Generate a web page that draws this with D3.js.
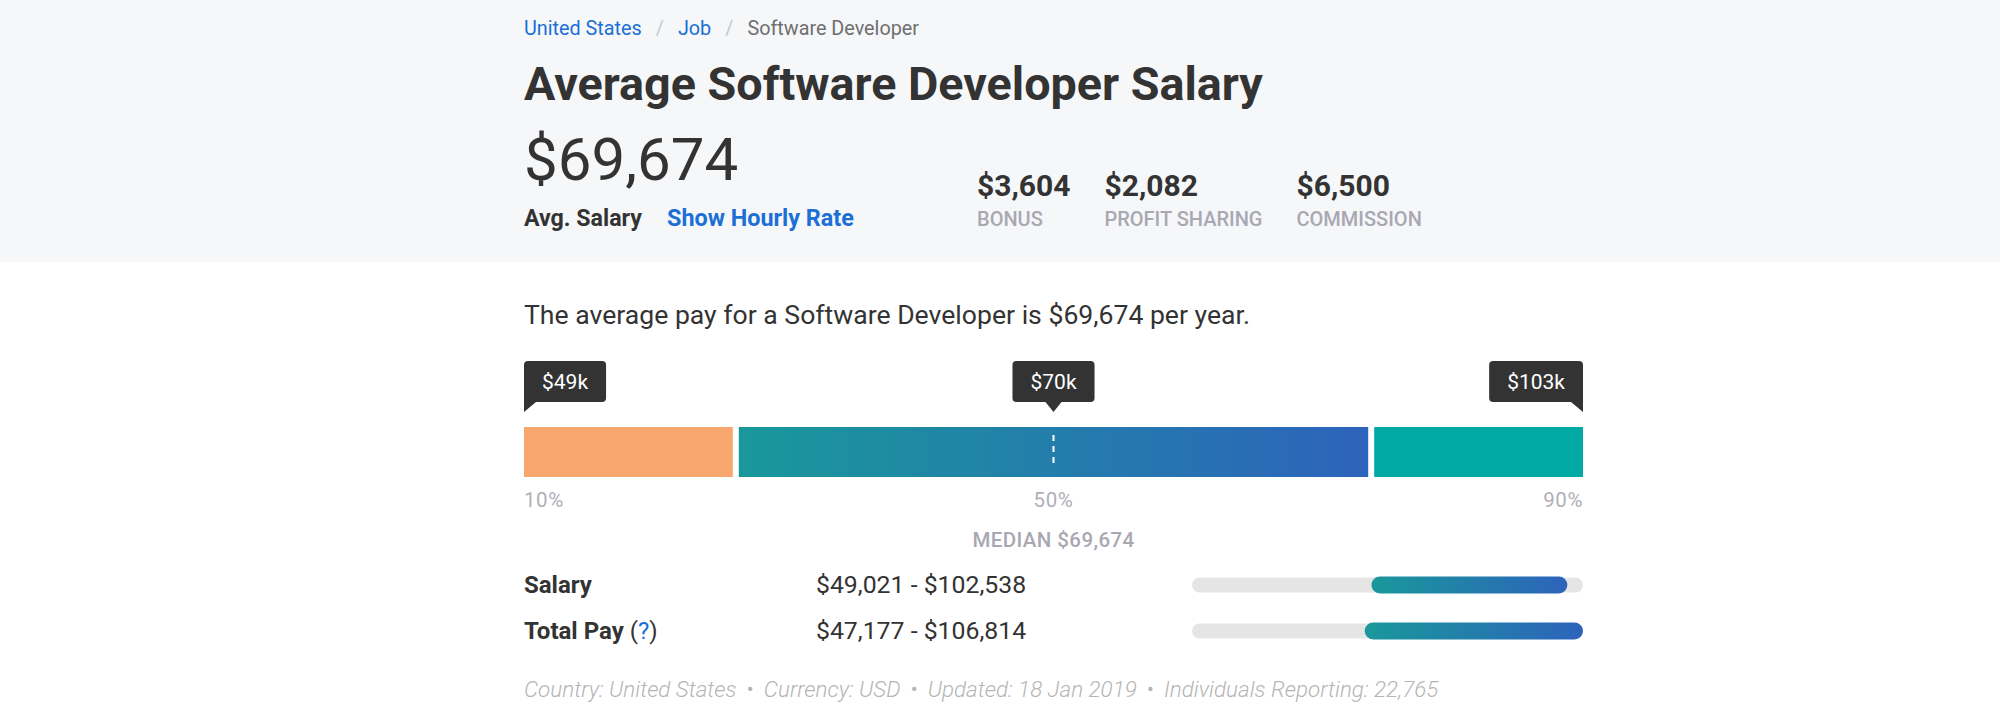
<!DOCTYPE html>
<html><head><meta charset="utf-8">
<script src="https://cdn.jsdelivr.net/npm/d3@7"></script>
<style>
body{margin:0;background:#fff;}
svg{display:block;font-family:Roboto,"Noto Sans",sans-serif;}
</style>
</head><body>
<svg id="chart" width="2000" height="709"></svg>
<script>
// ---- data ----
const breadcrumbItems = ["United States", "Job", "Software Developer"];
const breadcrumbIsLink = [true, true, false];
const pageTitle = "Average Software Developer Salary";
const avgSalary = 69674;
const extraLabels = ["BONUS", "PROFIT SHARING", "COMMISSION"];
const extraValues = [3604, 2082, 6500];
const percentileTicks = [10, 50, 90];
const percentileTickLabels = ["10%", "50%", "90%"];
const percentileValuesK = [49, 70, 103];
const segmentBounds = [10, 26, 74, 90];
const medianPay = 69674;
const rangeLabels = ["Salary", "Total Pay"];
const rangeLow = [49021, 47177];
const rangeHigh = [102538, 106814];
const footerItems = ["Country: United States", "Currency: USD", "Updated: 18 Jan 2019", "Individuals Reporting: 22,765"];

// ---- drawing ----
const svg = d3.select("#chart");
const W = 2000, H = 709;
const left = 524, right = 1583;
const fmt = d3.format("$,");

const defs = svg.append("defs");
const grad = defs.append("linearGradient").attr("id", "g1")
  .attr("x1", "0%").attr("x2", "100%").attr("y1", "0%").attr("y2", "0%");
grad.append("stop").attr("offset", "0%").attr("stop-color", "#19989b");
grad.append("stop").attr("offset", "100%").attr("stop-color", "#2d63bb");

// header background
svg.append("rect").attr("x", 0).attr("y", 0).attr("width", W).attr("height", 262).attr("fill", "#f6f7f9");

// breadcrumb
let bx = left;
const bcSize = 19.8;
breadcrumbItems.forEach((t, i) => {
  const s = svg.append("text").attr("x", bx).attr("y", 35).attr("font-size", bcSize)
    .attr("fill", breadcrumbIsLink[i] ? "#1b6fd6" : "#6f6f6f").text(t);
  bx += s.node().getComputedTextLength();
  if (i < breadcrumbItems.length - 1) {
    bx += 14;
    const sep = svg.append("text").attr("x", bx).attr("y", 35).attr("font-size", bcSize)
      .attr("fill", "#c8c8c8").text("/");
    bx += sep.node().getComputedTextLength() + 14;
  }
});

// title
svg.append("text").attr("x", left).attr("y", 100).attr("font-size", 46.7)
  .attr("font-weight", 700).attr("fill", "#333").text(pageTitle);

// big average
svg.append("text").attr("x", left).attr("y", 180).attr("font-size", 60)
  .attr("font-weight", 400).attr("fill", "#333").text(fmt(avgSalary));

svg.append("text").attr("x", left).attr("y", 226).attr("font-size", 23.2)
  .attr("font-weight", 700).attr("fill", "#333").text("Avg. Salary");
svg.append("text").attr("x", 667).attr("y", 226).attr("font-size", 23.4)
  .attr("font-weight", 700).attr("fill", "#1b6fd6").text("Show Hourly Rate");

// extras
let ex = 977;
extraValues.forEach((v, i) => {
  const n = svg.append("text").attr("x", ex).attr("y", 196).attr("font-size", 30)
    .attr("font-weight", 700).attr("fill", "#333").text(fmt(v));
  const l = svg.append("text").attr("x", ex).attr("y", 226).attr("font-size", 20)
    .attr("font-weight", 500).attr("fill", "#a9a8b2").text(extraLabels[i]);
  ex += Math.max(n.node().getComputedTextLength(), l.node().getComputedTextLength()) + 34;
});

// sentence
svg.append("text").attr("x", left).attr("y", 324).attr("font-size", 26.6)
  .attr("fill", "#333").text(`The average pay for a Software Developer is ${fmt(avgSalary)} per year.`);

// percentile bar
const x = d3.scaleLinear().domain([10, 90]).range([left, right]);
const barY = 427, barH = 50, gap = 3;
const segFills = ["#f8a86e", "url(#g1)", "#01aaa5"];
const segs = d3.pairs(segmentBounds).map((p, i) => ({ a: p[0], b: p[1], i }));
svg.selectAll(".seg").data(segs).join("rect").attr("class", "seg")
  .attr("x", d => x(d.a) + (d.i > 0 ? gap : 0))
  .attr("width", d => x(d.b) - x(d.a) - (d.i > 0 ? gap : 0) - (d.i < segs.length - 1 ? gap : 0))
  .attr("y", barY).attr("height", barH)
  .attr("fill", d => segFills[d.i]);

// median dashed line
svg.append("line").attr("x1", x(50)).attr("x2", x(50)).attr("y1", barY + 8).attr("y2", barY + barH - 10)
  .attr("stroke", "#fff").attr("stroke-width", 2).attr("stroke-dasharray", "6,5");

// tooltips
const tipY = 361, tipH = 41, tail = 10, r = 4;
percentileTicks.forEach((p, i) => {
  const px = x(p);
  const g = svg.append("g");
  const t = g.append("text").attr("font-size", 21).attr("fill", "#fff").attr("y", tipY + 28)
    .text("$" + percentileValuesK[i] + "k");
  const tw = t.node().getComputedTextLength();
  const w = tw + 36;
  let bx0;
  if (i === 0) bx0 = px; else if (i === percentileTicks.length - 1) bx0 = px - w; else bx0 = px - w / 2;
  const x0 = bx0, x1 = bx0 + w, y0 = tipY, y1 = tipY + tipH;
  let path = d3.path();
  if (i === 0) {
    path.moveTo(x0, y0 + r); path.arcTo(x0, y0, x0 + r, y0, r);
    path.lineTo(x1 - r, y0); path.arcTo(x1, y0, x1, y0 + r, r);
    path.lineTo(x1, y1 - r); path.arcTo(x1, y1, x1 - r, y1, r);
    path.lineTo(x0 + 12, y1); path.lineTo(x0, y1 + tail); path.closePath();
  } else if (i === percentileTicks.length - 1) {
    path.moveTo(x0, y0 + r); path.arcTo(x0, y0, x0 + r, y0, r);
    path.lineTo(x1 - r, y0); path.arcTo(x1, y0, x1, y0 + r, r);
    path.lineTo(x1, y1 + tail); path.lineTo(x1 - 12, y1);
    path.lineTo(x0 + r, y1); path.arcTo(x0, y1, x0, y1 - r, r); path.closePath();
  } else {
    path.moveTo(x0, y0 + r); path.arcTo(x0, y0, x0 + r, y0, r);
    path.lineTo(x1 - r, y0); path.arcTo(x1, y0, x1, y0 + r, r);
    path.lineTo(x1, y1 - r); path.arcTo(x1, y1, x1 - r, y1, r);
    path.lineTo(px + 8, y1); path.lineTo(px, y1 + tail); path.lineTo(px - 8, y1);
    path.lineTo(x0 + r, y1); path.arcTo(x0, y1, x0, y1 - r, r); path.closePath();
  }
  g.insert("path", "text").attr("d", path.toString()).attr("fill", "#333");
  t.attr("x", bx0 + w / 2).attr("text-anchor", "middle");
});

// percentile tick labels
svg.selectAll(".pl").data(percentileTicks).join("text").attr("class", "pl")
  .attr("x", d => x(d)).attr("y", 507).attr("font-size", 20.5).attr("fill", "#b0afb8")
  .attr("letter-spacing", 0.6)
  .attr("text-anchor", (d, i) => i === 0 ? "start" : (i === percentileTicks.length - 1 ? "end" : "middle"))
  .text((d, i) => percentileTickLabels[i]);

svg.append("text").attr("x", x(50)).attr("y", 547).attr("text-anchor", "middle")
  .attr("font-size", 20.5).attr("font-weight", 500).attr("fill", "#a9a8b2").attr("letter-spacing", 0.4)
  .text("MEDIAN " + fmt(medianPay));

// range rows
const rx = d3.scaleLinear().domain([0, d3.max(rangeHigh)]).range([1192, right]);
const rowY = [585, 631];
rangeLabels.forEach((lbl, i) => {
  const y = rowY[i];
  const lt = svg.append("text").attr("x", left).attr("y", y + 8).attr("font-size", 24)
    .attr("font-weight", 700).attr("fill", "#333").text(lbl);
  if (lbl === "Total Pay") {
    lt.append("tspan").attr("font-weight", 400).attr("fill", "#333").text(" (");
    lt.append("tspan").attr("font-weight", 400).attr("fill", "#1b6fd6").text("?");
    lt.append("tspan").attr("font-weight", 400).attr("fill", "#333").text(")");
  }
  svg.append("text").attr("x", 816).attr("y", y + 8).attr("font-size", 24.8)
    .attr("fill", "#333").text(fmt(rangeLow[i]) + " - " + fmt(rangeHigh[i]));
  svg.append("rect").attr("x", rx(0)).attr("width", rx(d3.max(rangeHigh)) - rx(0))
    .attr("y", y - 7.5).attr("height", 15).attr("rx", 7.5).attr("fill", "#e5e5e5");
  svg.append("rect").attr("x", rx(rangeLow[i])).attr("width", rx(rangeHigh[i]) - rx(rangeLow[i]))
    .attr("y", y - 8.5).attr("height", 17).attr("rx", 8.5).attr("fill", "url(#g1)");
});

// footer
const ft = svg.append("text").attr("y", 697).attr("font-size", 22.4).attr("font-style", "italic")
  .attr("font-weight", 300).attr("fill", "#b5b5b5");
let fx = left;
footerItems.forEach((item, i) => {
  const s = svg.append("text").attr("x", fx).attr("y", 697).attr("font-size", 22.4).attr("font-style", "italic")
    .attr("font-weight", 300).attr("fill", "#b5b5b5").text(item);
  fx += s.node().getComputedTextLength();
  if (i < footerItems.length - 1) {
    fx += 10;
    const b = svg.append("text").attr("x", fx).attr("y", 697).attr("font-size", 22.4)
      .attr("font-weight", 300).attr("fill", "#b5b5b5").text("•");
    fx += b.node().getComputedTextLength() + 10;
  }
});
</script>
</body></html>
